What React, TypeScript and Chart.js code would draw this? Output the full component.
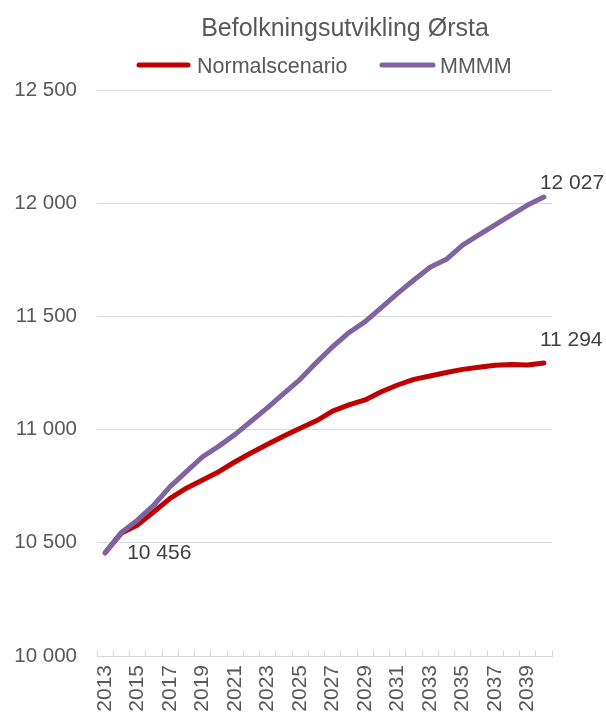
import React, { useEffect, useRef } from "react";
import { Chart, registerables } from "chart.js";

Chart.register(...registerables);

const chartTitle = "Befolkningsutvikling Ørsta";
const seriesNames = ["Normalscenario", "MMMM"];
const seriesColors = ["#C00000", "#8064A2"];

const years = [
  "2013", "2014", "2015", "2016", "2017", "2018", "2019", "2020", "2021", "2022",
  "2023", "2024", "2025", "2026", "2027", "2028", "2029", "2030", "2031", "2032",
  "2033", "2034", "2035", "2036", "2037", "2038", "2039", "2040",
];

const normalscenario = [
  10456, 10543, 10579, 10637, 10696, 10741, 10777, 10814, 10858, 10898,
  10935, 10972, 11006, 11039, 11082, 11109, 11131, 11167, 11197, 11222,
  11237, 11252, 11266, 11275, 11284, 11288, 11285, 11294,
];

const mmmm = [
  10456, 10546, 10601, 10667, 10748, 10814, 10880, 10927, 10979, 11038,
  11097, 11160, 11222, 11296, 11366, 11428, 11477, 11539, 11602, 11661,
  11717, 11752, 11815, 11860, 11904, 11948, 11992, 12027,
];

const yMin = 10000;
const yMax = 12500;
const yStep = 500;

const FONT = "'Liberation Sans', Arial, sans-serif";
const TEXT = "#595959";
const LABEL_TEXT = "#404040";
const GRID = "#D9D9D9";

const fmt = (v: number) =>
  String(Math.round(v)).replace(/\B(?=(\d{3})+(?!\d))/g, " ");

const headerPlugin = {
  id: "header",
  afterDraw(chart: any) {
    const ctx = chart.ctx;
    ctx.save();
    ctx.fillStyle = TEXT;
    ctx.font = `25px ${FONT}`;
    ctx.textAlign = "center";
    ctx.textBaseline = "alphabetic";
    ctx.fillText(chartTitle, 345, 36);

    ctx.font = `21.5px ${FONT}`;
    ctx.textAlign = "left";
    const items = [
      { x1: 139, x2: 188, tx: 197 },
      { x1: 382, x2: 433, tx: 440 },
    ];
    items.forEach((it, i) => {
      ctx.strokeStyle = seriesColors[i];
      ctx.lineWidth = 5;
      ctx.lineCap = "round";
      ctx.beginPath();
      ctx.moveTo(it.x1, 65);
      ctx.lineTo(it.x2, 65);
      ctx.stroke();
      ctx.fillStyle = TEXT;
      ctx.fillText(seriesNames[i], it.tx, 73);
    });
    ctx.restore();
  },
};

const dataLabelPlugin = {
  id: "dataLabels",
  afterDatasetsDraw(chart: any) {
    const ctx = chart.ctx;
    ctx.save();
    ctx.font = `21px ${FONT}`;
    ctx.fillStyle = LABEL_TEXT;
    ctx.textBaseline = "middle";
    ctx.textAlign = "left";
    const m0 = chart.getDatasetMeta(0).data;
    const m1 = chart.getDatasetMeta(1).data;
    const first = m0[0];
    ctx.fillText(fmt(normalscenario[0]), first.x + 22, first.y);
    const lastR = m0[m0.length - 1];
    ctx.fillText(fmt(normalscenario[normalscenario.length - 1]), lastR.x - 4, lastR.y - 23);
    const lastP = m1[m1.length - 1];
    ctx.fillText(fmt(mmmm[mmmm.length - 1]), lastP.x - 4, lastP.y - 14);
    ctx.restore();
  },
};

export default function App() {
  const ref = useRef<HTMLCanvasElement | null>(null);

  useEffect(() => {
    if (!ref.current) return;
    const chart = new Chart(ref.current, {
      type: "line",
      data: {
        labels: years,
        datasets: [
          {
            label: seriesNames[0],
            data: normalscenario,
            borderColor: seriesColors[0],
            backgroundColor: seriesColors[0],
            borderWidth: 5,
            borderCapStyle: "round",
            borderJoinStyle: "round",
            pointRadius: 0,
            tension: 0,
            order: 1,
          },
          {
            label: seriesNames[1],
            data: mmmm,
            borderColor: seriesColors[1],
            backgroundColor: seriesColors[1],
            borderWidth: 5,
            borderCapStyle: "round",
            borderJoinStyle: "round",
            pointRadius: 0,
            tension: 0,
            order: 0,
          },
        ],
      },
      options: {
        animation: false,
        responsive: false,
        layout: { padding: { top: 90, right: 54, left: 0, bottom: 0 } },
        plugins: {
          legend: { display: false },
          title: { display: false },
          tooltip: { enabled: false },
        },
        scales: {
          x: {
            offset: true,
            grid: {
              offset: true,
              drawOnChartArea: false,
              drawTicks: true,
              tickLength: -6,
              color: GRID,
            },
            border: { display: true, color: GRID },
            ticks: {
              autoSkip: false,
              minRotation: 90,
              maxRotation: 90,
              padding: 15,
              color: TEXT,
              font: { family: FONT, size: 21 },
              callback: (_v: any, i: number) => (i % 2 === 0 ? years[i] : ""),
            },
            afterFit: (s: any) => {
              s.height = 59;
            },
          },
          y: {
            min: yMin,
            max: yMax,
            ticks: {
              stepSize: yStep,
              padding: 20,
              color: TEXT,
              font: { family: FONT, size: 20.5 },
              callback: (v: any) => fmt(Number(v)),
            },
            grid: { color: GRID, drawTicks: false, lineWidth: 1 },
            border: { display: false },
            afterFit: (s: any) => {
              s.width = 97;
            },
          },
        },
      },
      plugins: [headerPlugin, dataLabelPlugin],
    } as any);
    return () => chart.destroy();
  }, []);

  return (
    <div style={{ position: "absolute", left: 0, top: 0, width: 606, height: 715, background: "#fff" }}>
      <canvas ref={ref} width={606} height={715} />
    </div>
  );
}
